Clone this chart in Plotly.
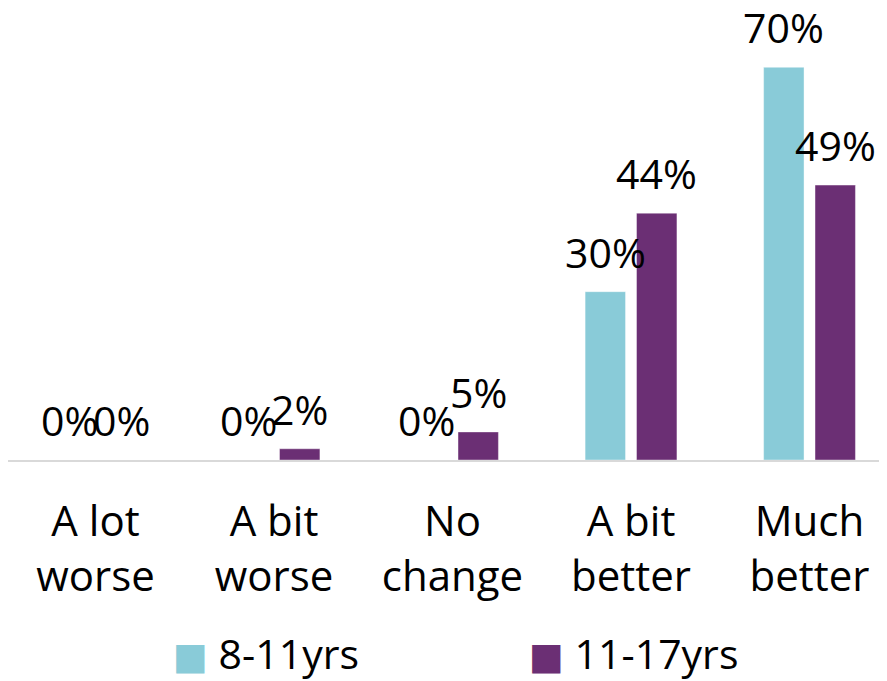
import plotly.graph_objects as go

categories = ["A lot<br>worse", "A bit<br>worse", "No<br>change", "A bit<br>better", "Much<br>better"]
series_names = ["8-11yrs", "11-17yrs"]
values_8_11 = [0, 0, 0, 30, 70]
values_11_17 = [0, 2, 5, 44, 49]
colors = ["#89CBD8", "#6B2F74"]

FONT = "Open Sans"
series_values = [values_8_11, values_11_17]

fig = go.Figure()
for name, vals, col in zip(series_names, series_values, colors):
    fig.add_trace(go.Bar(
        x=categories, y=vals, name=name,
        marker=dict(color=col, line=dict(color="rgba(255,255,255,0.4)", width=1)),
        showlegend=False,
    ))

offsets = [-25.7, 25.7]
for vals, dx in zip(series_values, offsets):
    for cat, v in zip(categories, vals):
        fig.add_annotation(
            x=cat, y=v, xref="x", yref="y", text=f"{v}%", showarrow=False,
            xshift=dx, yshift=40, yanchor="middle", xanchor="center",
            font=dict(family=FONT, size=41, color="#000000"),
        )

# legend built as annotations with square swatches
legend_x = [0.185, 0.590]
for name, col, lx in zip(series_names, colors, legend_x):
    fig.add_annotation(
        x=lx, y=-0.428, xref="paper", yref="paper", showarrow=False,
        xanchor="left", yanchor="middle",
        text=(f"<span style='color:{col};font-family:DejaVu Sans;font-size:37px'>■</span>"
              f" {name}"),
        font=dict(family=FONT, size=41, color="#000000"),
    )

fig.update_layout(
    width=879, height=673,
    margin=dict(l=0, r=0, t=0, b=221),
    paper_bgcolor="white", plot_bgcolor="white",
    barmode="group", bargap=0.424, bargroupgap=0.214,
    font=dict(family=FONT, color="#000000"),
    xaxis=dict(
        range=[-0.4902, 4.434], showline=True, linecolor="#d9d9d9", linewidth=1.5,
        ticks="", showgrid=False, tickfont=dict(family=FONT, size=42, color="#000000"),
        ticklabelstandoff=24,
    ),
    yaxis=dict(range=[0, 80.57], visible=False, showgrid=False, zeroline=False),
)

fig.write_html("out.html")
